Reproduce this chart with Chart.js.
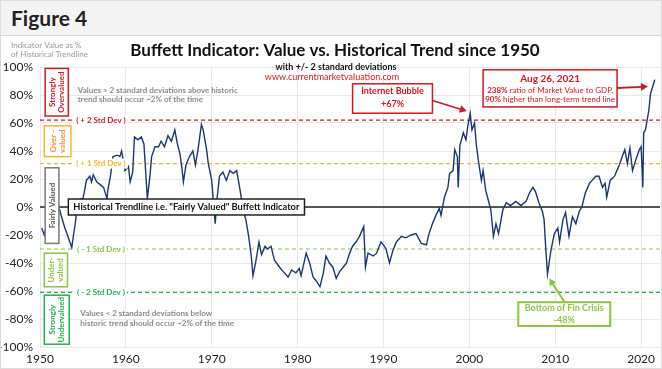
<!DOCTYPE html>
<html>
<head>
<meta charset="utf-8">
<script src="https://cdn.jsdelivr.net/npm/chart.js@4.4.1/dist/chart.umd.min.js"></script>
<style>
  html, body { margin: 0; padding: 0; background: #fff; }
  #wrap { position: relative; width: 662px; height: 369px; overflow: hidden; }
  #head { position: absolute; left: 0; top: 0; width: 662px; height: 36px; box-sizing: border-box;
          background: #f4f4f4; border-bottom: 1px solid #d8d8d8;
          font: bold 21px Lato, sans-serif; color: #222; line-height: 35px; padding-left: 11px; }
  #frame { position: absolute; left: 0; top: 0; width: 662px; height: 369px; box-sizing: border-box;
           border: 1px solid #dcdcdc; pointer-events: none; }
  canvas { position: absolute; left: 0; top: 0; }
</style>
</head>
<body>
<div id="wrap">
  <div id="head">Figure 4</div>
  <canvas id="buffett" width="662" height="369"></canvas>
  <div id="frame"></div>
</div>
<script>
// indicator, % above / below the historical trendline
const years = [
  1950.2, 1950.5, 1951.2, 1951.7, 1952.3, 1952.5, 1952.9, 1953.3, 1953.7, 1953.9,
  1954.1, 1954.3, 1954.7, 1955.0, 1955.2, 1955.4, 1955.8, 1956.0, 1956.2, 1956.6,
  1957.0, 1957.4, 1957.8, 1957.9, 1958.2, 1958.5, 1959.0, 1959.3, 1959.5, 1959.9,
  1960.3, 1960.5, 1960.8, 1961.0, 1961.4, 1961.8, 1962.1, 1962.3, 1962.5, 1962.8,
  1963.0, 1963.4, 1963.8, 1964.1, 1964.5, 1964.9, 1965.3, 1965.7, 1966.0, 1966.3,
  1966.5, 1966.7, 1967.0, 1967.4, 1967.8, 1968.1, 1968.4, 1968.8, 1969.0, 1969.4,
  1969.6, 1970.0, 1970.2, 1970.4, 1970.6, 1970.9, 1971.3, 1971.7, 1972.1, 1972.5,
  1972.9, 1973.3, 1973.6, 1974.0, 1974.3, 1974.6, 1974.8, 1975.1, 1975.5, 1975.8,
  1976.2, 1976.5, 1976.9, 1977.3, 1977.9, 1978.3, 1978.9, 1979.3, 1979.8, 1980.2,
  1980.4, 1981.0, 1981.4, 1981.8, 1982.2, 1982.6, 1983.0, 1983.3, 1983.7, 1984.1,
  1984.5, 1984.9, 1985.3, 1985.7, 1986.0, 1986.4, 1986.8, 1987.2, 1987.7, 1987.9,
  1988.2, 1988.8, 1989.2, 1989.7, 1990.0, 1990.3, 1990.7, 1991.1, 1991.5, 1992.1,
  1992.6, 1993.2, 1993.8, 1994.4, 1995.0, 1995.3, 1995.7, 1996.1, 1996.5, 1996.7,
  1997.1, 1997.5, 1997.7, 1998.1, 1998.3, 1998.6, 1998.7, 1998.9, 1999.3, 1999.6,
  1999.8, 2000.1, 2000.3, 2000.6, 2000.8, 2001.1, 2001.4, 2001.6, 2001.9, 2002.2,
  2002.5, 2002.8, 2003.1, 2003.4, 2003.9, 2004.3, 2004.8, 2005.4, 2006.0, 2006.6,
  2007.0, 2007.4, 2007.7, 2008.1, 2008.5, 2008.7, 2008.9, 2009.1, 2009.5, 2009.9,
  2010.3, 2010.5, 2010.9, 2011.2, 2011.6, 2012.0, 2012.4, 2012.8, 2013.1, 2013.5,
  2014.0, 2014.3, 2014.7, 2015.1, 2015.5, 2015.8, 2016.0, 2016.4, 2016.9, 2017.4,
  2017.8, 2018.1, 2018.4, 2018.7, 2019.0, 2019.4, 2019.8, 2020.0, 2020.2, 2020.3,
  2020.5, 2020.7, 2020.9, 2021.1, 2021.3, 2021.6
];
const values = [
  -15, -20, -2, 0, -2, -7, -15, -22, -29, -20,
  -12, -2, 6, 6, 12, 19, 22, 18, 23, 18,
  16, 14, 6, 12, 22, 36, 37, 36, 40, 26,
  29, 18, 25, 50, 48, 50, 45, 26, 6, 22,
  36, 43, 43, 47, 43, 51, 47, 55, 45, 38,
  29, 18, 30, 36, 40, 30, 41, 59, 55, 41,
  31, 19, 3, -12, 5, 22, 25, 19, 26, 24,
  26, 12, 0, -10, -21, -35, -49, -40, -25, -34,
  -28, -30, -28, -38, -43, -46, -50, -45, -47, -44,
  -49, -33, -40, -50, -53, -57, -47, -35, -40, -43,
  -51, -46, -43, -40, -34, -28, -25, -21, -14, -43,
  -33, -35, -33, -25, -27, -30, -40, -31, -25, -21,
  -22, -20, -19, -26, -27, -19, -12, -6, -1, -6,
  7, 14, 24, 26, 41, 36, 14, 44, 53, 48,
  57, 67, 55, 60, 45, 31, 19, 26, 12, 5,
  -2, -21, -12, -19, -2, 3, 1, 4, 1, 4,
  10, 14, 11, 3, -3, -9, -30, -48, -31, -19,
  -15, -25, -9, -4, -21, -7, -12, -3, 0, 10,
  17, 19, 22, 22, 14, 17, 7, 19, 22, 29,
  36, 41, 31, 42, 26, 34, 41, 43, 14, 53,
  55, 62, 69, 81, 85, 91
];
const xTicks = [1950, 1960, 1970, 1980, 1990, 2000, 2010, 2020];
const yTicks = [100, 80, 60, 40, 20, 0, -20, -40, -60, -80, -100];
const sdLevels = [62, 31, -30, -61];
const sdLabels = ['( + 2 Std Dev )', '( + 1 Std Dev )', '( - 1 Std Dev )', '( - 2 Std Dev )'];

const RED = '#d3191f', GOLD = '#f7b52a', ORANGE = '#f2922b', LIME = '#8cc63f', GREEN = '#22b14c';
const sdColors = [RED, GOLD, LIME, GREEN];
const FONT = 'Lato, "Open Sans", sans-serif';

function arrow(ctx, x1, y1, x2, y2, color, lw, head) {
  const a = Math.atan2(y2 - y1, x2 - x1);
  ctx.save();
  ctx.strokeStyle = color; ctx.fillStyle = color; ctx.lineWidth = lw;
  ctx.beginPath();
  ctx.moveTo(x1, y1);
  ctx.lineTo(x2 - Math.cos(a) * head * 0.8, y2 - Math.sin(a) * head * 0.8);
  ctx.stroke();
  ctx.beginPath();
  ctx.moveTo(x2, y2);
  ctx.lineTo(x2 - head * Math.cos(a) + head * 0.55 * Math.sin(a), y2 - head * Math.sin(a) - head * 0.55 * Math.cos(a));
  ctx.lineTo(x2 - head * Math.cos(a) - head * 0.55 * Math.sin(a), y2 - head * Math.sin(a) + head * 0.55 * Math.cos(a));
  ctx.closePath();
  ctx.fill();
  ctx.restore();
}

function box(ctx, x1, y1, x2, y2, color, lw) {
  ctx.save();
  ctx.fillStyle = '#fff';
  ctx.fillRect(x1, y1, x2 - x1, y2 - y1);
  ctx.strokeStyle = color; ctx.lineWidth = lw;
  ctx.strokeRect(x1, y1, x2 - x1, y2 - y1);
  ctx.restore();
}

// text made of [string, bold] pieces, centred on cx
function mixed(ctx, parts, cx, y, size, color) {
  ctx.save();
  ctx.fillStyle = color; ctx.textBaseline = 'middle'; ctx.textAlign = 'left';
  let w = 0;
  parts.forEach(p => { ctx.font = (p[1] ? 'bold ' : '') + size + 'px ' + FONT; w += ctx.measureText(p[0]).width; });
  let x = cx - w / 2;
  parts.forEach(p => {
    ctx.font = (p[1] ? 'bold ' : '') + size + 'px ' + FONT;
    ctx.fillText(p[0], x, y);
    x += ctx.measureText(p[0]).width;
  });
  ctx.restore();
}

function vbox(ctx, x1, y1, x2, y2, color, textColor, lines) {
  box(ctx, x1, y1, x2, y2, color, 1.5);
  ctx.save();
  ctx.translate((x1 + x2) / 2, (y1 + y2) / 2);
  ctx.rotate(-Math.PI / 2);
  ctx.fillStyle = textColor; ctx.font = 'bold 8px ' + FONT;
  ctx.textAlign = 'center'; ctx.textBaseline = 'middle';
  const lh = 9;
  lines.forEach((l, i) => ctx.fillText(l, 0, (i - (lines.length - 1) / 2) * lh));
  ctx.restore();
}

const overlay = {
  id: 'overlay',
  beforeDatasetsDraw(chart) {
    const { ctx, chartArea: ca, scales: { x, y } } = chart;
    ctx.save();
    // trendline
    ctx.strokeStyle = '#222'; ctx.lineWidth = 1.3;
    ctx.beginPath(); ctx.moveTo(ca.left, y.getPixelForValue(0)); ctx.lineTo(ca.right, y.getPixelForValue(0)); ctx.stroke();
    // std dev bands
    ctx.lineWidth = 1.2; ctx.setLineDash([4, 3]);
    sdLevels.forEach((v, i) => {
      const py = y.getPixelForValue(v);
      ctx.strokeStyle = sdColors[i];
      ctx.beginPath(); ctx.moveTo(ca.left, py); ctx.lineTo(ca.right, py); ctx.stroke();
    });
    ctx.restore();
  },
  afterDatasetsDraw(chart) {
    const { ctx, chartArea: ca, scales: { x, y } } = chart;
    const X = v => x.getPixelForValue(v), Y = v => y.getPixelForValue(v);

    // std dev labels
    ctx.save();
    ctx.font = 'bold 8px ' + FONT; ctx.textAlign = 'center'; ctx.textBaseline = 'middle';
    sdLabels.forEach((t, i) => {
      const py = Y(sdLevels[i]), cx = X(1957.1);
      const w = ctx.measureText(t).width;
      ctx.fillStyle = '#fff'; ctx.fillRect(cx - w / 2 - 2, py - 5, w + 4, 10);
      ctx.fillStyle = sdColors[i]; ctx.fillText(t, cx, py);
    });
    ctx.restore();

    // zone boxes on the left
    vbox(ctx, X(1950.6), Y(99), X(1953.3), Y(65), RED, RED, ['Strongly', 'Overvalued']);
    vbox(ctx, X(1950.5), Y(58), X(1953.6), Y(36), GOLD, ORANGE, ['Over -', 'valued']);
    vbox(ctx, X(1950.6), Y(28), X(1952.2), Y(-26), '#7a7a7a', '#555', ['Fairly Valued']);
    vbox(ctx, X(1950.5), Y(-33), X(1953.2), Y(-57), LIME, LIME, ['Under-', 'valued']);
    vbox(ctx, X(1950.5), Y(-63), X(1953.4), Y(-98), GREEN, GREEN, ['Strongly', 'Undervalued']);

    // frequency notes
    ctx.save();
    ctx.fillStyle = '#8a8a8a'; ctx.font = 'bold 8px ' + FONT; ctx.textAlign = 'left'; ctx.textBaseline = 'middle';
    ctx.fillText('Values > 2 standard deviations above historic', X(1954.4), Y(83.5));
    ctx.fillText('trend should occur ~2% of the time', X(1954.4), Y(76.5));
    ctx.fillText('Values < 2 standard deviations below', X(1954.7), Y(-76));
    ctx.fillText('historic trend should occur ~2% of the time', X(1954.7), Y(-83));
    ctx.restore();

    // trendline label, text fitted inside its box
    const tx1 = X(1953.3), tx2 = X(1980.8);
    box(ctx, tx1, Y(5.7), tx2, Y(-5.7), '#222', 1.5);
    ctx.save();
    const label = 'Historical Trendline i.e. "Fairly Valued" Buffett Indicator';
    let fs = 10.5;
    ctx.font = 'bold ' + fs + 'px ' + FONT;
    while (ctx.measureText(label).width > tx2 - tx1 - 10 && fs > 7) {
      fs -= 0.25;
      ctx.font = 'bold ' + fs + 'px ' + FONT;
    }
    ctx.fillStyle = '#111'; ctx.textAlign = 'left'; ctx.textBaseline = 'middle';
    ctx.fillText(label, tx1 + 5, Y(0) + 0.5);
    ctx.restore();

    // internet bubble
    box(ctx, X(1986.4), Y(88), X(1995.7), Y(67), RED, 1.5);
    mixed(ctx, [['Internet Bubble', true]], X(1991.05), Y(82.5), 9, RED);
    mixed(ctx, [['+67%', true]], X(1991.05), Y(73.5), 9, RED);
    arrow(ctx, X(1995.7), Y(76), X(1999.7), Y(68.5), RED, 1.6, 7);

    // latest reading
    box(ctx, X(2001.6), Y(98), X(2017.2), Y(71.5), RED, 1.5);
    mixed(ctx, [['Aug 26, 2021', true]], X(2009.4), Y(91.5), 10, RED);
    mixed(ctx, [['238%', true], [' ratio of Market Value to GDP,', false]], X(2009.4), Y(83), 8, RED);
    mixed(ctx, [['90%', true], [' higher than long-term trend line', false]], X(2009.4), Y(76.5), 8, RED);
    arrow(ctx, X(2017.2), Y(85), X(2020.8), Y(86), RED, 1.8, 7);

    // financial crisis bottom
    box(ctx, X(2005.7), Y(-68), X(2016.4), Y(-85), LIME, 2);
    mixed(ctx, [['Bottom of Fin Crisis', true]], X(2011.05), Y(-72.5), 9, LIME);
    mixed(ctx, [['-48%', true]], X(2011.05), Y(-80.5), 9, LIME);
    arrow(ctx, X(2011.1), Y(-68), X(2009.3), Y(-51), LIME, 2, 7);
  },
  afterDraw(chart) {
    const { ctx } = chart;
    ctx.save();
    ctx.fillStyle = '#999'; ctx.font = '8px ' + FONT; ctx.textAlign = 'left'; ctx.textBaseline = 'middle';
    ctx.fillText('Indicator Value as %', 11, 45);
    ctx.fillText('of Historical Trendline', 11, 54);
    ctx.fillStyle = '#111'; ctx.font = 'bold 17px ' + FONT; ctx.textAlign = 'center';
    ctx.fillText('Buffett Indicator: Value vs. Historical Trend since 1950', 335, 51);
    ctx.font = 'bold 9px ' + FONT;
    ctx.fillText('with +/- 2 standard deviations', 336, 67);
    ctx.fillStyle = RED; ctx.font = '9px ' + FONT;
    ctx.fillText('www.currentmarketvaluation.com', 332, 77);
    ctx.restore();
  }
};

new Chart(document.getElementById('buffett'), {
  type: 'line',
  data: {
    datasets: [{
      data: years.map((yr, i) => ({ x: yr, y: values[i] })),
      borderColor: '#1b3676',
      borderWidth: 1.4,
      pointRadius: 0,
      tension: 0,
      fill: false
    }]
  },
  options: {
    responsive: false,
    animation: false,
    layout: { padding: { left: 0, right: 2, top: 67, bottom: 0 } },
    plugins: { legend: { display: false }, tooltip: { enabled: false } },
    scales: {
      x: {
        type: 'linear', min: 1950, max: 2022.2,
        afterBuildTicks: s => { s.ticks = xTicks.map(v => ({ value: v })); },
        afterFit: s => { s.height = 22; },
        ticks: { color: '#222', font: { family: FONT, size: 12 }, padding: 5, maxRotation: 0, callback: v => String(v) },
        grid: { color: '#e8e8e8', drawTicks: false },
        border: { display: false }
      },
      y: {
        min: -100, max: 100,
        afterBuildTicks: s => { s.ticks = yTicks.map(v => ({ value: v })); },
        afterFit: s => { s.width = 40; },
        ticks: { color: '#222', font: { family: FONT, size: 12 }, padding: 7, callback: v => v + '%' },
        grid: { color: '#e8e8e8', drawTicks: false },
        border: { display: false }
      }
    }
  },
  plugins: [overlay]
});
</script>
</body>
</html>
